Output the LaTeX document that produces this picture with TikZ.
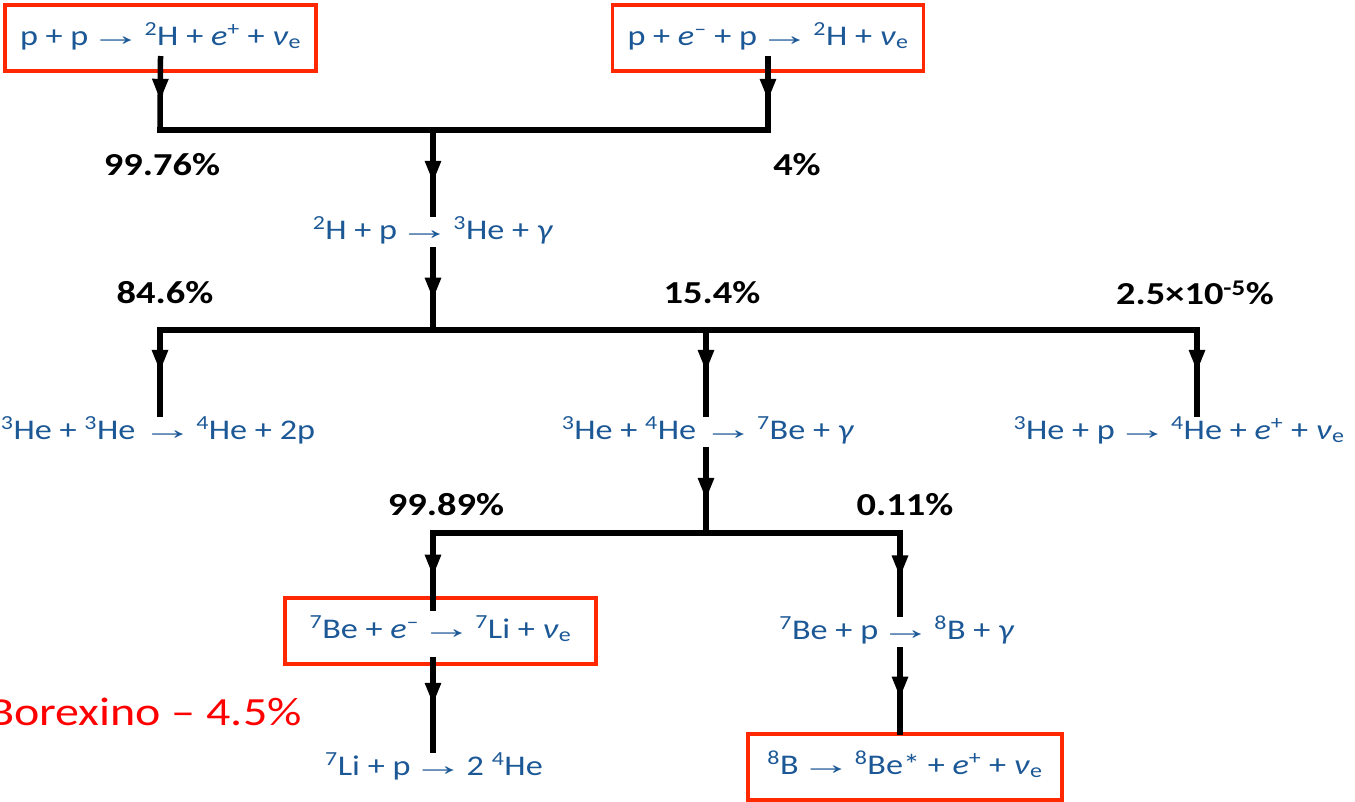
\documentclass[tikz,border=0pt]{standalone}
\usepackage{fontspec}
\setmainfont{Carlito}[FakeStretch=1.2]
\newfontfamily\arrowfont{Liberation Sans}[FakeStretch=1.3]
\usetikzlibrary{arrows.meta,decorations.markings}
\definecolor{rxblue}{RGB}{28,88,150}
\definecolor{boxred}{RGB}{255,40,0}
\newcommand\myiso[2]{\textsuperscript{#1}#2}
\newcommand\mynue{\textit{ν}\textsubscript{e}}
\newcommand\myto{\hspace{-0.22em}\scalebox{1.4}[1.05]{\arrowfont →}\hspace{0.1em}}
\begin{document}
\begin{tikzpicture}[x=1pt,y=-1pt,
 rx/.style={text=rxblue, font=\fontsize{28.5}{35}\selectfont, inner sep=3pt, text height=22pt, text depth=8pt},
 boxed/.style={rx, draw=boxred, line width=3.5pt, minimum width=311pt, minimum height=66pt},
 pct/.style={font=\fontsize{32}{38}\selectfont\bfseries, text=black, inner sep=0pt},
 bar/.style={line width=5.5pt, line cap=rect},
 flow/.style={bar, postaction={decorate}, decoration={markings, mark=at position #1 with {\arrow{Triangle[width=15pt,length=22pt]}}}},
 flow/.default=0.58]
\useasboundingbox (0,0) rectangle (1355,801);

% reactions
\node[boxed] (pp) at (160.5,38) {p + p \myto \myiso{2}{H} + \textit{e}\textsuperscript{+} + \mynue};
\node[boxed] (pep) at (768,38) {p + \textit{e}\textsuperscript{–} + p \myto \myiso{2}{H} + \mynue};
\node[rx] (dp) at (433,232) {\myiso{2}{H} + p \myto \myiso{3}{He} + \textit{γ}};
\node[rx] (he33) at (158,432) {\myiso{3}{He} + \myiso{3}{He}\, \myto \myiso{4}{He} + 2p};
\node[rx] (he34) at (708,432) {\myiso{3}{He} + \myiso{4}{He}\, \myto \myiso{7}{Be} + \textit{γ}};
\node[rx] (he3p) at (1179,432) {\myiso{3}{He} + p \myto \myiso{4}{He} + \textit{e}\textsuperscript{+} + \mynue};
\node[boxed] (be7e) at (440.5,631) {\myiso{7}{Be} + \textit{e}\textsuperscript{–} \myto \myiso{7}{Li} + \mynue};
\node[rx] (be7p) at (897,632) {\myiso{7}{Be} + p \myto \myiso{8}{B} + \textit{γ}};
\node[rx] (li7) at (434,768) {\myiso{7}{Li} + p \myto 2 \myiso{4}{He}};
\node[boxed, minimum width=314pt] (b8) at (905,767) {\myiso{8}{B} \myto \myiso{8}{Be*} + \textit{e}\textsuperscript{+} + \mynue};

% branching labels
\node[pct] (l1) at (162,165) {99.76\%};
\node[pct] (l2) at (797,165) {4\%};
\node[pct] (l3) at (165,293) {84.6\%};
\node[pct] (l4) at (712,293) {15.4\%};
\node[pct] (l5) at (1195,293) {2.5×10\textsuperscript{-5}\%};
\node[pct] (l6) at (446,505) {99.89\%};
\node[pct] (l7) at (905,505) {0.11\%};

\node[text=red, font=\fontsize{40}{48}\selectfont, anchor=east, inner sep=0pt] (bx) at (302,712) {Borexino – 4.5\%};

% junctions
\coordinate (j1l) at (160,130);
\coordinate (j1m) at (433,130);
\coordinate (j1r) at (768,130);
\coordinate (j2l) at (160,330);
\coordinate (j2m) at (433,330);
\coordinate (j2c) at (706,330);
\coordinate (j2r) at (1197,330);
\coordinate (j3l) at (433,533);
\coordinate (j3m) at (706,533);
\coordinate (j3r) at (900,533);

% connectors
\draw[flow=0.59] ([yshift=14pt]pp.south) -- (j1l);
\draw[flow=0.59] ([yshift=14pt]pep.south) -- (j1r);
\draw[bar] (j1l) -- (j1r);
\draw[flow=0.63] (j1m) -- (j1m |- dp.north);
\draw[flow=0.62] (dp.south -| j2m) -- (j2m);
\draw[bar] (j2l) -- (j2r);
\draw[flow=0.5] (j2l) -- (j2l |- he33.north);
\draw[flow=0.5] (j2c) -- (j2c |- he34.north);
\draw[flow=0.5] (j2r) -- (j2r |- he3p.north);
\draw[flow=0.6] (he34.south -| j3m) -- (j3m);
\draw[bar] (j3l) -- (j3r);
\draw[flow=0.58] (j3l) -- ([yshift=-12pt]be7e.north -| j3l);
\draw[flow=0.55] (j3r) -- (j3r |- be7p.north);
\draw[flow=0.5] ([yshift=6pt]be7e.south -| j3l) -- (j3l |- li7.north);
\draw[flow=0.59] (be7p.south -| j3r) -- (j3r |- b8.north);
\end{tikzpicture}
\end{document}
